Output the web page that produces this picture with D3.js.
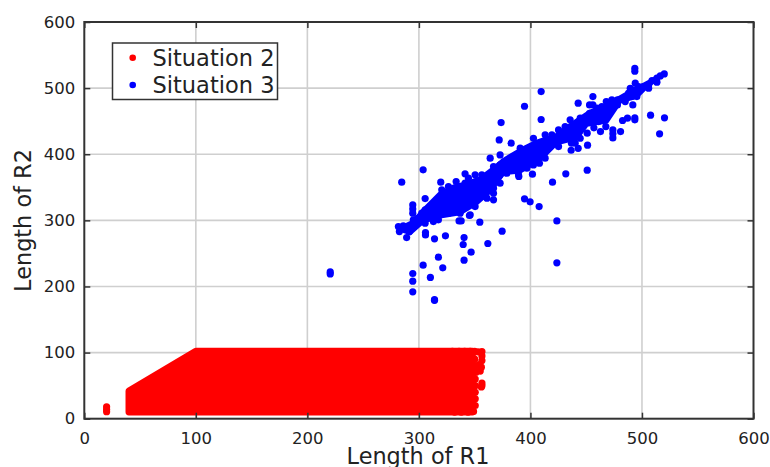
<!DOCTYPE html>
<html><head><meta charset="utf-8">
<script src="https://cdn.jsdelivr.net/npm/d3@7"></script>
<style>html,body{margin:0;padding:0;background:#fff}svg{display:block}text{font-family:"DejaVu Sans",sans-serif;fill:#222}</style>
</head><body><svg id="c" width="770" height="467"></svg>
<script>
const xTicks=[0,100,200,300,400,500,600];
const yTicks=[0,100,200,300,400,500,600];
const seriesNames=["Situation 2","Situation 3"];
const seriesColors=["#ff0000","#0000ff"];
// Solid red mass: outline (too dense for individual dots)
const redOutline=[[40,10],[40,42],[100,102],[348,102],[348,10]];
const redDots=[[20,18],[20,14],[20,10.5],[330,102],[336,102],[341,102],[346,102],[350,102],[353,101],[356.5,101.5],[356.5,95],[356.5,88],[354,82],[356,78],[355,72],[350,90],[351,80],[351,70],[356.5,54],[356.5,50],[356,48],[350.5,60],[350.5,50],[350.5,40],[350.5,30],[350.5,20],[349,11],[344,10],[338,10],[332,10]];
// Solid blue core of the band: outline
const blueCore=[[283.1,288.2],[295.1,298.2],[304.1,315.9],[319,341],[331,351.2],[343,356.2],[355,363.8],[366.9,378.9],[375.8,391.5],[390.8,406.6],[405.7,419.2],[423.7,429.3],[435.6,444.4],[453.6,464.6],[468.5,474.6],[489.5,494.8],[501.4,504.9],[519.4,521.5],[504.4,502.4],[495.4,487.2],[480.5,479.7],[468.5,449.4],[450.6,444.4],[441.6,424.2],[423.7,416.7],[408.7,391.5],[390.8,373.8],[375.8,371.3],[363.9,343.6],[351.9,325.9],[337,310.8],[319,305.8],[304,298.2],[292.1,280.6],[283.1,285.6]];
const blueOutliers=[[220.5,222],[220.5,219],[284.6,357.7],[303.8,376.4],[319.6,357.7],[305.6,333],[294.5,323.4],[294.5,317],[305.9,281.6],[305.9,278],[314,272],[323.8,276.6],[340.5,274],[339.7,263.5],[361.8,265],[374.6,283.6],[346.8,251.9],[340.5,239.8],[317.5,244.3],[321.4,228.2],[303.8,232.2],[310.3,213.6],[294.5,219.6],[294.5,208],[294.5,191.9],[314,180],[314,179],[423.7,235.7],[423.7,299.2],[407.8,320.9],[399.7,328],[394.7,332.5],[419.8,357.7],[431.7,370.3],[450.9,375.9],[401.8,369.8],[373.7,447.9],[394.7,472.6],[409.6,494.8],[409.6,452.5],[372,421.7],[382.7,416.7],[363.9,394],[442.8,477.2],[507.7,459],[520.2,455],[515.8,430.8],[493.6,530],[493.6,525.5],[493.6,455],[493.6,452],[487,454.5],[482.6,451],[491.8,474.6],[480.8,434.3],[473.9,436.8],[473.9,430.8],[473.9,424.7],[462.8,434.3],[456.9,439.9],[450.9,431.8],[451.2,413.7],[442.8,409],[436.5,406],[436.8,416.7],[467.6,441.9],[354.6,297.2],[336,299.2],[337.9,299.2],[345.3,307.3],[366.9,331],[366.9,341],[389.6,366.3]];
const blueBand=[[281.6,290.7],[282.5,283],[286,291.7],[289,274],[291.5,283],[293.6,293],[295,300.8],[294.5,310.8],[298.7,303],[302.6,310.8],[305.6,295.7],[305.6,315.9],[308.6,305.8],[310,320.9],[313,298.2],[316,310.8],[317.5,300.8],[314.5,323.4],[320.5,346.1],[320.5,333.5],[320.5,320.9],[323.5,310.8],[326.5,310.8],[326.5,351.2],[326.5,336],[326.5,323.4],[331,320.9],[331,343.6],[333.4,358.7],[333.4,333.5],[337,310.8],[337,328.5],[337,348.6],[341.4,370.3],[341.4,356.2],[341.4,341],[341.4,323.4],[344.4,363.8],[346,346.1],[346,308.3],[346,331],[350.4,368.8],[350.4,356.2],[350.4,341],[350.4,320.9],[356.4,368.8],[356.4,353.7],[356.4,336],[361,361.2],[361,346.1],[361,333.5],[366.9,381.4],[366.9,366.3],[366.9,348.6],[372.8,399],[372.8,384],[372.8,368.8],[372.8,356.2],[378.8,384],[378.8,371.3],[384.8,394],[384.8,378.9],[390.8,409.1],[390.8,396.5],[390.8,378.9],[389.3,368.8],[396.8,406.6],[396.8,394],[396.8,378.9],[402.7,424.2],[402.7,411.6],[402.7,396.5],[402.7,383.9],[408.1,414.2],[408.1,399],[408.1,386.4],[413.2,429.3],[413.2,411.6],[413.2,394],[419.2,429.3],[419.2,416.7],[425.2,436.8],[425.2,424.2],[425.2,411.6],[431.1,441.9],[431.1,429.3],[435.6,452],[435.6,436.8],[435.6,424.2],[440.1,444.4],[440.1,429.3],[440.1,416.7],[444.6,454.5],[444.6,439.3],[444.6,424.2],[449.1,449.4],[453,474.6],[453,462],[453,449.4],[456,487.2],[456,474.6],[459.6,469.6],[459.6,457],[461,449.4],[464,472],[464,459.5],[468,479.7],[468,467],[468,454.5],[473,482.2],[473,469.6],[478,482.2],[478,474.6],[483.5,484.7],[485,479.7],[488,492.3],[489.5,499.8],[491,487.2],[494,507.4],[494,497.3],[495.4,487.2],[497,502.4],[501.4,502.4],[506,504.9],[506,499.8],[509,511.4],[513.4,515],[513.4,509],[516.4,518.5],[520,521.5],
[300,298],[311,312],[318,315],[328,330],[335,340],[340,330],[345,340],[352,350],[358,345],[364,355],[370,375],[376,378],[381,390],[388,388],[394,400],[400,404],[406,392],[411,405],[416,420],[422,420],[428,432],[434,430],[438,436],[442,436],[447,444],[451,455],[456,462],[462,465],[466,470],[471,476],[476,478],[481,483],[486,486],[491,495]];

const W=770,H=467,L=84.3,R=753.5,T=22,B=418.7,rad=3.6;
const x=d3.scaleLinear().domain([0,600]).range([L,R]);
const y=d3.scaleLinear().domain([0,600]).range([B,T]);
const svg=d3.select("#c");
const dark="#333";
// grid
const grid=svg.append("g").attr("stroke","#cfcfcf").attr("stroke-width",1.6);
grid.selectAll("line.v").data(xTicks.slice(1,-1)).join("line").attr("x1",x).attr("x2",x).attr("y1",T).attr("y2",B);
grid.selectAll("line.h").data(yTicks.slice(1,-1)).join("line").attr("x1",L).attr("x2",R).attr("y1",y).attr("y2",y);
// red series
const line=d3.line().x(d=>x(d[0])).y(d=>y(d[1])).curve(d3.curveLinearClosed);
svg.append("path").datum(redOutline).attr("d",line).attr("fill",seriesColors[0]).attr("stroke",seriesColors[0]).attr("stroke-width",6.8).attr("stroke-linejoin","round");
svg.append("g").attr("fill",seriesColors[0]).selectAll("circle").data(redDots).join("circle").attr("cx",d=>x(d[0])).attr("cy",d=>y(d[1])).attr("r",rad);
// blue series
svg.append("path").datum(blueCore).attr("d",line).attr("fill",seriesColors[1]).attr("stroke",seriesColors[1]).attr("stroke-width",4).attr("stroke-linejoin","round");
svg.append("g").attr("fill",seriesColors[1]).selectAll("circle").data(blueBand.concat(blueOutliers)).join("circle").attr("cx",d=>x(d[0])).attr("cy",d=>y(d[1])).attr("r",rad);
// axes
function style(g){g.select(".domain").remove();g.selectAll(".tick line").attr("stroke",dark).attr("stroke-width",1.5);g.selectAll("text").attr("font-size",16.5).attr("fill","#222").style("font-family",'"DejaVu Sans",sans-serif');}
svg.append("g").attr("transform",`translate(0,${B})`).call(d3.axisBottom(x).tickValues(xTicks).tickSizeInner(-6).tickPadding(14).tickFormat(d3.format("d"))).call(style);
svg.append("g").attr("transform",`translate(${L},0)`).call(d3.axisLeft(y).tickValues(yTicks).tickSizeInner(-6).tickPadding(9).tickFormat(d3.format("d"))).call(style);
svg.append("g").attr("transform",`translate(0,${T})`).call(d3.axisTop(x).tickValues(xTicks).tickSizeInner(-6).tickFormat("")).call(style);
svg.append("g").attr("transform",`translate(${R},0)`).call(d3.axisRight(y).tickValues(yTicks).tickSizeInner(-6).tickFormat("")).call(style);
svg.append("rect").attr("x",L).attr("y",T).attr("width",R-L).attr("height",B-T).attr("fill","none").attr("stroke",dark).attr("stroke-width",2);
// axis titles
svg.append("text").attr("x",418).attr("y",464).attr("text-anchor","middle").attr("font-size",22.4).text("Length of R1");
svg.append("text").attr("transform","translate(31,220.5) rotate(-90)").attr("text-anchor","middle").attr("font-size",22.4).text("Length of R2");
// legend
const lg=svg.append("g");
lg.append("rect").attr("x",112.5).attr("y",43).attr("width",165).attr("height",56.5).attr("fill","#fff").attr("stroke",dark).attr("stroke-width",1.5);
seriesNames.forEach((n,i)=>{const cy=57.7+i*27.3;
 lg.append("circle").attr("cx",132.7).attr("cy",cy).attr("r",3.3).attr("fill",seriesColors[i]);
 lg.append("text").attr("x",152.5).attr("y",cy+8).attr("font-size",22.5).text(n);});
</script></body></html>
